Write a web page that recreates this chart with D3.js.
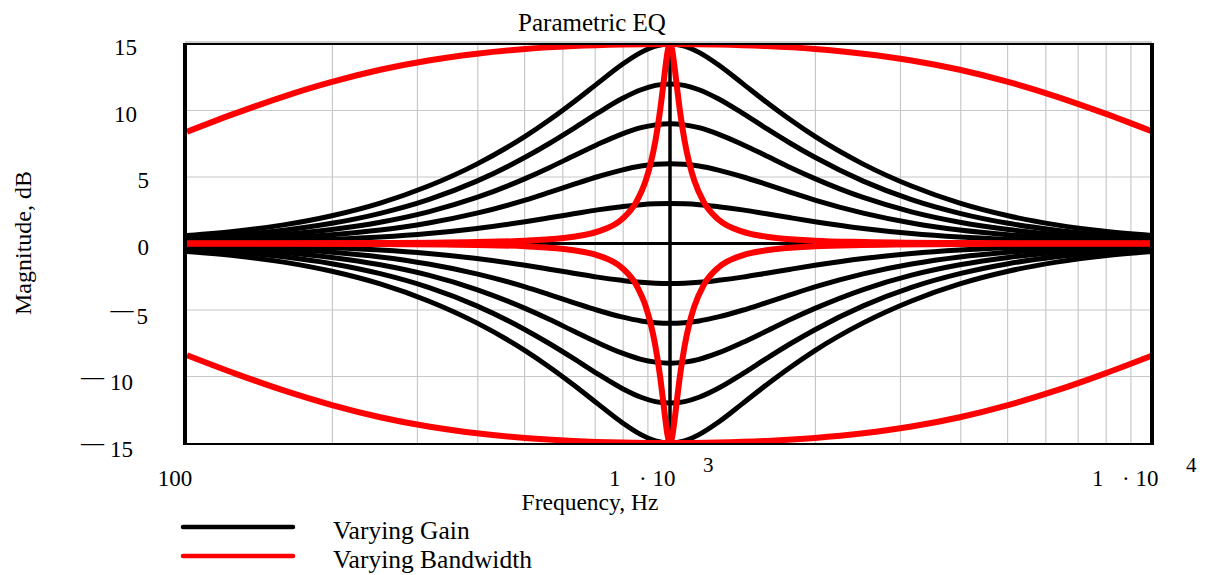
<!DOCTYPE html>
<html><head><meta charset="utf-8">
<script src="https://cdn.jsdelivr.net/npm/d3@7"></script>
<style>
html,body{margin:0;padding:0;background:#fff;}
svg{display:block;font-family:"Liberation Serif","Times New Roman",serif;}
</style>
</head><body>
<svg id="c" width="1205" height="575"></svg>
<script>
// ---------------- DATA ----------------
const chartTitle = "Parametric EQ";
const xAxisTitle = "Frequency, Hz";
const yAxisTitle = "Magnitude, dB";
const legendLabels = ["Varying Gain", "Varying Bandwidth"];

const yTicks = [-15, -10, -5, 0, 5, 10, 15];
const yGridValues = [-10, -5, 0, 5, 10];
const xTickValues = [100, 1000, 10000];
const xTickMantissa = ["100", "1", "1"];
const xTickExponent = ["", "3", "4"];

// Varying gain family (frequency in Hz, magnitude in dB)
const gainFreq = [100, 125.9, 158.5, 199.5, 251.2, 316.2, 398.1, 501.2, 562.3, 631.0, 707.9, 794.3, 871.0, 933.3, 1000,
                  1071.5, 1148.2, 1258.9, 1412.5, 1584.9, 1778.3, 1995.3, 2511.9, 3162.3, 3981.1, 5011.9, 6309.6, 7943.3, 10000];
const gainP15 = [0.60, 0.92, 1.40, 2.09, 3.04, 4.32, 5.97, 8.05, 9.28, 10.62, 12.04, 13.44, 14.37, 14.84, 15,
                 14.84, 14.37, 13.44, 12.04, 10.62, 9.28, 8.05, 5.97, 4.32, 3.04, 2.09, 1.40, 0.92, 0.60];
const gainP12 = [0.42, 0.65, 1.00, 1.52, 2.27, 3.30, 4.69, 6.48, 7.52, 8.64, 9.80, 10.88, 11.56, 11.89, 12,
                 11.89, 11.56, 10.88, 9.80, 8.64, 7.52, 6.48, 4.69, 3.30, 2.27, 1.52, 1.00, 0.65, 0.42];
const gainP9  = [0.28, 0.44, 0.68, 1.05, 1.60, 2.38, 3.46, 4.88, 5.70, 6.58, 7.45, 8.23, 8.71, 8.92, 9,
                 8.92, 8.71, 8.23, 7.45, 6.58, 5.70, 4.88, 3.46, 2.38, 1.60, 1.05, 0.68, 0.44, 0.28];
const gainP6  = [0.17, 0.27, 0.42, 0.66, 1.01, 1.54, 2.28, 3.26, 3.84, 4.44, 5.02, 5.52, 5.82, 5.95, 6,
                 5.95, 5.82, 5.52, 5.02, 4.44, 3.84, 3.26, 2.28, 1.54, 1.01, 0.66, 0.42, 0.27, 0.17];
const gainP3  = [0.08, 0.13, 0.20, 0.32, 0.49, 0.75, 1.13, 1.64, 1.93, 2.23, 2.53, 2.77, 2.92, 2.98, 3,
                 2.98, 2.92, 2.77, 2.53, 2.23, 1.93, 1.64, 1.13, 0.75, 0.49, 0.32, 0.20, 0.13, 0.08];
const gain0   = [0, 0, 0, 0, 0, 0, 0, 0, 0, 0, 0, 0, 0, 0, 0,
                 0, 0, 0, 0, 0, 0, 0, 0, 0, 0, 0, 0, 0, 0];
const gainM3  = [-0.08, -0.13, -0.20, -0.32, -0.49, -0.75, -1.13, -1.64, -1.93, -2.23, -2.53, -2.77, -2.92, -2.98, -3,
                 -2.98, -2.92, -2.77, -2.53, -2.23, -1.93, -1.64, -1.13, -0.75, -0.49, -0.32, -0.20, -0.13, -0.08];
const gainM6  = [-0.17, -0.27, -0.42, -0.66, -1.01, -1.54, -2.28, -3.26, -3.84, -4.44, -5.02, -5.52, -5.82, -5.95, -6,
                 -5.95, -5.82, -5.52, -5.02, -4.44, -3.84, -3.26, -2.28, -1.54, -1.01, -0.66, -0.42, -0.27, -0.17];
const gainM9  = [-0.28, -0.44, -0.68, -1.05, -1.60, -2.38, -3.46, -4.88, -5.70, -6.58, -7.45, -8.23, -8.71, -8.92, -9,
                 -8.92, -8.71, -8.23, -7.45, -6.58, -5.70, -4.88, -3.46, -2.38, -1.60, -1.05, -0.68, -0.44, -0.28];
const gainM12 = [-0.42, -0.65, -1.00, -1.52, -2.27, -3.30, -4.69, -6.48, -7.52, -8.64, -9.80, -10.88, -11.56, -11.89, -12,
                 -11.89, -11.56, -10.88, -9.80, -8.64, -7.52, -6.48, -4.69, -3.30, -2.27, -1.52, -1.00, -0.65, -0.42];
const gainM15 = [-0.60, -0.92, -1.40, -2.09, -3.04, -4.32, -5.97, -8.05, -9.28, -10.62, -12.04, -13.44, -14.37, -14.84, -15,
                 -14.84, -14.37, -13.44, -12.04, -10.62, -9.28, -8.05, -5.97, -4.32, -3.04, -2.09, -1.40, -0.92, -0.60];

// centre-frequency marker (1 kHz)
const markerFreq = [1000, 1000];
const markerDb = [-15, 15];

// Varying bandwidth: wide (low Q) boost / cut
const wideFreq = [100, 125.9, 158.5, 199.5, 251.2, 316.2, 398.1, 501.2, 631.0, 794.3, 1000,
                  1258.9, 1584.9, 1995.3, 2511.9, 3162.3, 3981.1, 5011.9, 6309.6, 7943.3, 10000];
const wideUp   = [8.40, 9.78, 11.05, 12.15, 13.06, 13.76, 14.27, 14.62, 14.84, 14.96, 15,
                  14.96, 14.84, 14.62, 14.27, 13.76, 13.06, 12.15, 11.05, 9.78, 8.40];
const wideDown = [-8.40, -9.78, -11.05, -12.15, -13.06, -13.76, -14.27, -14.62, -14.84, -14.96, -15,
                  -14.96, -14.84, -14.62, -14.27, -13.76, -13.06, -12.15, -11.05, -9.78, -8.40];

// Varying bandwidth: narrow (high Q) boost / cut
const narrowFreq = [100, 251.2, 398.1, 501.2, 631.0, 707.9, 794.3, 851.1, 891.3, 912.0, 933.3, 955.0, 966.1, 977.2, 988.6, 1000,
                    1011.6, 1023.3, 1035.1, 1047.1, 1071.5, 1096.5, 1122.0, 1174.9, 1258.9, 1412.5, 1584.9, 1995.3, 2511.9, 3981.1, 10000];
const narrowUp   = [0.01, 0.035, 0.11, 0.21, 0.51, 0.89, 1.81, 3.11, 4.76, 6.03, 7.76, 10.13, 11.58, 13.11, 14.44, 15,
                    14.44, 13.11, 11.58, 10.13, 7.76, 6.03, 4.76, 3.11, 1.81, 0.89, 0.51, 0.21, 0.11, 0.035, 0.01];
const narrowDown = [-0.01, -0.035, -0.11, -0.21, -0.51, -0.89, -1.81, -3.11, -4.76, -6.03, -7.76, -10.13, -11.58, -13.11, -14.44, -15,
                    -14.44, -13.11, -11.58, -10.13, -7.76, -6.03, -4.76, -3.11, -1.81, -0.89, -0.51, -0.21, -0.11, -0.035, -0.01];

// ---------------- DRAWING ----------------
const BLACK = "#000000", RED = "#ff0000", GRID = "#c8c8c8";
const svg = d3.select("#c");
const x = d3.scaleLog().domain([100, 10000]).range([187, 1153]);
const y = d3.scaleLinear().domain([-15, 15]).range([443, 44]);
const L = 185, R = 1152, T = 44, B = 443;

svg.append("defs").append("clipPath").attr("id", "plotclip")
  .append("rect").attr("x", L).attr("y", T).attr("width", R - L).attr("height", B - T);

// grid
const grid = svg.append("g").attr("stroke", GRID).attr("stroke-width", 1.2);
grid.selectAll("line.v").data(x.ticks().filter(t => t > 100 && t < 10000 && t !== 1000))
  .join("line").attr("class", "v")
  .attr("x1", d => x(d)).attr("x2", d => x(d)).attr("y1", T).attr("y2", B);
grid.selectAll("line.h").data(yGridValues)
  .join("line").attr("class", "h")
  .attr("x1", L).attr("x2", R).attr("y1", d => y(d)).attr("y2", d => y(d));

// series
const line = d3.line().x(d => x(d[0])).y(d => y(d[1])).curve(d3.curveMonotoneX);
const plot = svg.append("g").attr("clip-path", "url(#plotclip)");

const blackSeries = [gainP15, gainP12, gainP9, gainP6, gainP3, gainM3, gainM6, gainM9, gainM12, gainM15];
plot.selectAll("path.gain").data(blackSeries).join("path").attr("class", "gain")
  .attr("d", v => line(d3.zip(gainFreq, v)))
  .attr("fill", "none").attr("stroke", BLACK).attr("stroke-width", 5).attr("stroke-linejoin", "round");
plot.append("path").attr("d", line(d3.zip(gainFreq, gain0)))
  .attr("fill", "none").attr("stroke", BLACK).attr("stroke-width", 3);
plot.append("path").attr("d", d3.line().x(d => x(d[0])).y(d => y(d[1]))(d3.zip(markerFreq, markerDb)))
  .attr("fill", "none").attr("stroke", BLACK).attr("stroke-width", 3.5);

const redSeries = [
  {f: wideFreq, v: wideUp}, {f: wideFreq, v: wideDown},
  {f: narrowFreq, v: narrowUp}, {f: narrowFreq, v: narrowDown}
];
plot.selectAll("path.bw").data(redSeries).join("path").attr("class", "bw")
  .attr("d", s => line(d3.zip(s.f, s.v)))
  .attr("fill", "none").attr("stroke", RED).attr("stroke-width", 6).attr("stroke-linejoin", "round");

// frame
const frame = svg.append("g");
frame.append("line").attr("x1", L).attr("x2", R).attr("y1", T - 2).attr("y2", T - 2).attr("stroke", "#a0a0a0").attr("stroke-width", 1);
frame.append("line").attr("x1", L).attr("x2", R + 2).attr("y1", T).attr("y2", T).attr("stroke", BLACK).attr("stroke-width", 2);
frame.append("line").attr("x1", L).attr("x2", R + 2).attr("y1", B + 1).attr("y2", B + 1).attr("stroke", BLACK).attr("stroke-width", 2);
frame.append("line").attr("x1", L).attr("x2", L).attr("y1", T - 1).attr("y2", B + 2).attr("stroke", BLACK).attr("stroke-width", 4);
frame.append("line").attr("x1", R).attr("x2", R).attr("y1", T - 1).attr("y2", B + 2).attr("stroke", BLACK).attr("stroke-width", 4);

// y tick labels
const yl = svg.append("g").attr("font-size", 23).attr("fill", BLACK);
yTicks.forEach(t => {
  const a = Math.abs(t);
  const twoDigit = a >= 10;
  if (t >= 0) {
    yl.append("text").attr("x", twoDigit ? 137 : 149).attr("y", y(t) + 11)
      .attr("text-anchor", "end").text(String(a));
  } else {
    const txt = yl.append("text").attr("x", twoDigit ? 133 : 148).attr("y", y(t) + 13.5)
      .attr("text-anchor", "end");
    txt.append("tspan").attr("dy", -6.5).text("\u2014");
    txt.append("tspan").attr("dy", 6.5).attr("dx", twoDigit ? 6 : 3).text(String(a));
  }
});

// x tick labels (Mathcad style 1 · 10^n)
const xl = svg.append("g").attr("font-size", 23).attr("fill", BLACK);
xTickValues.forEach((v, i) => {
  const px = x(v);
  if (xTickExponent[i] === "") {
    xl.append("text").attr("x", px - 12).attr("y", 486).attr("text-anchor", "middle").text(xTickMantissa[i]);
  } else {
    const left = px - 61;
    xl.append("text").attr("x", left).attr("y", 486).text(xTickMantissa[i]);
    xl.append("text").attr("x", left + 30).attr("y", 486).text("\u00b7 10");
    xl.append("text").attr("x", left + 94).attr("y", 472).attr("font-size", 21).text(xTickExponent[i]);
  }
});

// titles
svg.append("text").attr("x", 592).attr("y", 31).attr("text-anchor", "middle").attr("font-size", 25).text(chartTitle);
svg.append("text").attr("x", 590).attr("y", 510).attr("text-anchor", "middle").attr("font-size", 23.5).text(xAxisTitle);
svg.append("text").attr("transform", "translate(31,243) rotate(-90)").attr("text-anchor", "middle").attr("font-size", 24).text(yAxisTitle);

// legend
const legColors = [BLACK, RED];
const lg = svg.append("g");
legendLabels.forEach((lab, i) => {
  const ly = 527 + i * 29;
  lg.append("line").attr("x1", 183).attr("x2", 293).attr("y1", ly).attr("y2", ly)
    .attr("stroke", legColors[i]).attr("stroke-width", 4.5).attr("stroke-linecap", "round");
  lg.append("text").attr("x", 333).attr("y", ly + 12).attr("font-size", 25.5).text(lab);
});
</script>
</body></html>
